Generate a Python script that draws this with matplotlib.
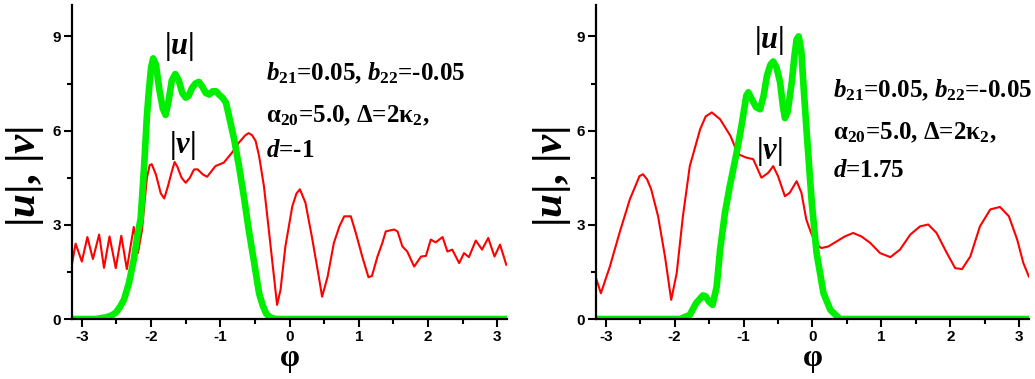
import numpy as np
import matplotlib
matplotlib.use("Agg")
import matplotlib.pyplot as plt

plt.rcParams['mathtext.fontset'] = 'custom'
plt.rcParams['mathtext.rm'] = 'Liberation Serif:bold'
plt.rcParams['mathtext.it'] = 'Liberation Serif:italic:bold'
plt.rcParams['mathtext.bf'] = 'Liberation Serif:bold'
plt.rcParams['axes.unicode_minus'] = False

PI = np.pi

# d = -1 : |u| (green) and |v| (red)
phi_u1 = [-PI, -2.8, -2.66, -2.58, -2.51, -2.45, -2.39, -2.32, -2.25, -2.20, -2.15,
          -2.10, -2.06, -2.03, -2.00, -1.97, -1.93, -1.88, -1.83, -1.79, -1.75,
          -1.70, -1.65, -1.60, -1.55, -1.50, -1.46, -1.41, -1.36, -1.31, -1.26,
          -1.21, -1.16, -1.11, -1.06, -1.02, -0.97, -0.92, -0.875, -0.80, -0.73,
          -0.66, -0.59, -0.51, -0.44, -0.39, -0.34, -0.28, -0.20, PI]
u1 = [0, 0, 0.05, 0.1, 0.2, 0.38, 0.62, 1.14, 1.89, 2.63, 3.2,
      4.87, 6.47, 7.3, 8.0, 8.3, 8.1, 7.3, 6.7, 6.5, 6.9,
      7.6, 7.8, 7.6, 7.2, 7.05, 7.1, 7.35, 7.5, 7.55, 7.4,
      7.2, 7.15, 7.25, 7.25, 7.15, 7.05, 6.9, 6.47, 5.72, 4.87,
      3.91, 2.85, 1.78, 0.82, 0.45, 0.18, 0.05, 0, 0]

phi_v1 = [-3.14, -3.09, -3.0, -2.92, -2.84, -2.75, -2.68, -2.60, -2.51, -2.43,
          -2.35, -2.25, -2.19, -2.13, -2.10, -2.06, -2.02, -1.99, -1.93, -1.86,
          -1.81, -1.76, -1.70, -1.66, -1.62, -1.56, -1.50, -1.44, -1.38, -1.33,
          -1.25, -1.19, -1.13, -1.07, -0.95, -0.83, -0.73, -0.64, -0.59, -0.54,
          -0.49, -0.44, -0.37, -0.30, -0.22, -0.18, -0.13, -0.06, 0.04, 0.10,
          0.15, 0.23, 0.33, 0.43, 0.47, 0.55, 0.64, 0.72, 0.79, 0.885,
          0.957, 1.05, 1.14, 1.19, 1.27, 1.34, 1.39, 1.51, 1.56, 1.63,
          1.70, 1.80, 1.90, 1.97, 2.04, 2.11, 2.21, 2.28, 2.35, 2.45,
          2.52, 2.59, 2.69, 2.78, 2.87, 2.96, 3.04, 3.13]
v1 = [1.78, 2.40, 1.83, 2.61, 1.91, 2.69, 1.63, 2.63, 1.62, 2.65,
      1.59, 2.93, 2.10, 2.85, 3.6, 4.5, 4.9, 4.93, 4.6, 4.0,
      3.84, 4.2, 4.7, 5.0, 4.85, 4.5, 4.34, 4.5, 4.76, 4.77,
      4.6, 4.53, 4.7, 4.87, 4.98, 5.30, 5.62, 5.85, 5.92, 5.85,
      5.67, 5.19, 4.23, 2.85, 1.25, 0.45, 0.93, 2.31, 3.59, 4.0,
      4.13, 3.70, 2.53, 1.25, 0.71, 1.35, 2.42, 2.95, 3.27, 3.27,
      2.74, 1.99, 1.33, 1.37, 1.99, 2.42, 2.79, 2.85, 2.79, 2.31,
      2.15, 1.67, 1.99, 2.01, 2.53, 2.44, 2.61, 2.15, 2.21, 1.78,
      2.10, 1.97, 2.50, 2.21, 2.58, 1.99, 2.37, 1.73]

# d = 1.75 : |u| (green) and |v| (red)
phi_u2 = [-PI, -1.92, -1.78, -1.69, -1.59, -1.55, -1.50, -1.45, -1.39, -1.34,
          -1.27, -1.20, -1.10, -1.03, -0.96, -0.93, -0.88, -0.82, -0.76, -0.71,
          -0.66, -0.61, -0.57, -0.52, -0.47, -0.43, -0.40, -0.36, -0.30, -0.26,
          -0.23, -0.20, -0.16, -0.13, -0.08, -0.01, 0.06, 0.16, 0.26, 0.35, 0.40, PI]
u2 = [0, 0, 0.13, 0.50, 0.75, 0.72, 0.55, 0.45, 1.03, 2.21,
      3.38, 4.23, 5.30, 6.15, 7.11, 7.22, 7.0, 6.75, 6.68, 7.1,
      7.75, 8.1, 8.2, 8.0, 7.54, 6.8, 6.4, 6.6, 7.54, 8.4,
      8.9, 9.0, 8.5, 7.43, 5.83, 3.70, 2.10, 0.82, 0.29, 0.1, 0, 0]

phi_v2 = [-3.14, -3.07, -2.94, -2.80, -2.65, -2.51, -2.46, -2.40, -2.34, -2.24,
          -2.14, -2.05, -1.97, -1.88, -1.78, -1.63, -1.55, -1.46, -1.34, -1.19,
          -1.08, -0.96, -0.86, -0.74, -0.64, -0.57, -0.50, -0.40, -0.33, -0.23,
          -0.16, -0.09, -0.02, 0.06, 0.13, 0.23, 0.35, 0.47, 0.59, 0.71,
          0.84, 0.98, 1.13, 1.27, 1.42, 1.56, 1.68, 1.80, 1.95, 2.07,
          2.17, 2.29, 2.43, 2.58, 2.72, 2.85, 2.97, 3.06, 3.14]
v2 = [1.30, 0.82, 1.67, 2.74, 3.81, 4.55, 4.61, 4.45, 4.13, 3.27,
      1.99, 0.61, 1.46, 3.27, 4.87, 6.04, 6.45, 6.58, 6.36, 5.83,
      5.25, 5.14, 5.09, 4.50, 4.66, 4.87, 4.55, 3.91, 4.02, 4.39,
      4.02, 3.17, 2.74, 2.37, 2.26, 2.31, 2.47, 2.63, 2.74, 2.63,
      2.42, 2.10, 1.97, 2.21, 2.69, 2.95, 3.01, 2.74, 2.10, 1.62,
      1.59, 1.99, 2.95, 3.49, 3.57, 3.27, 2.53, 1.78, 1.35]

xticks = [-3, -2, -1, 0, 1, 2, 3]
yticks = [0, 3, 6, 9]

panels = [
    dict(rect=[0.0696, 0.1583, 0.4203, 0.8285], pu=phi_u1, u=u1, pv=phi_v1, v=v1,
         ulab=(-1.60, 8.68), vlab=(-1.55, 5.52), tx=-0.34, ty=[7.59, 6.27, 5.15],
         dtxt='$d$=-1', ylx=-0.108),
    dict(rect=[0.5758, 0.1583, 0.4184, 0.8285], pu=phi_u2, u=u2, pv=phi_v2, v=v2,
         ulab=(-0.63, 8.86), vlab=(-0.62, 5.35), tx=0.30, ty=[7.06, 5.72, 4.51],
         dtxt='$d$=1.75', ylx=-0.102),
]

fig = plt.figure(figsize=(10.35, 3.79), dpi=100)
serif = dict(family='Liberation Serif', weight='bold')

for p in panels:
    ax = fig.add_axes(p['rect'])
    ax.plot(p['pv'], p['v'], color='#ff0000', lw=1.5)
    ax.plot(p['pu'], p['u'], color='#00ee00', lw=4.8, solid_joinstyle='round')
    ax.set_xlim(-PI, PI)
    ax.set_ylim(0, 10)
    ax.set_xticks(xticks)
    ax.set_xticks(np.arange(-2.5, 3.0, 1.0), minor=True)
    ax.set_yticks(yticks)
    ax.set_yticks([1.5, 4.5, 7.5], minor=True)
    for s in ['top', 'right']:
        ax.spines[s].set_visible(False)
    for s in ['left', 'bottom']:
        ax.spines[s].set_linewidth(1.6)
    ax.tick_params(which='major', length=6, width=1.5, pad=2)
    ax.tick_params(which='minor', length=3.5, width=1.5)
    for lab in ax.get_xticklabels() + ax.get_yticklabels():
        lab.set_fontfamily('Liberation Sans')
        lab.set_fontweight('bold')
        lab.set_fontsize(11)
    ax.set_xlabel('φ', fontsize=23, va='center', **serif)
    ax.xaxis.set_label_coords(0.5, -0.125)
    ax.set_ylabel(r'$|u|$, $|v|$', fontsize=31, ha='center', va='center', **serif)
    ax.yaxis.set_label_coords(p['ylx'], 0.455)
    ax.text(*p['ulab'], r'$|u|$', fontsize=22, ha='center', va='center', **serif)
    ax.text(*p['vlab'], r'$|v|$', fontsize=22, ha='center', va='center', **serif)
    lines = [r'$b_{21}$=0.05, $b_{22}$=-0.05', 'α$_{20}$=5.0, Δ=2κ$_2$,', p['dtxt']]
    for t, yy in zip(lines, p['ty']):
        ax.text(p['tx'], yy, t, fontsize=18, ha='left', va='baseline', **serif)

fig.savefig('out.png', dpi=100)
